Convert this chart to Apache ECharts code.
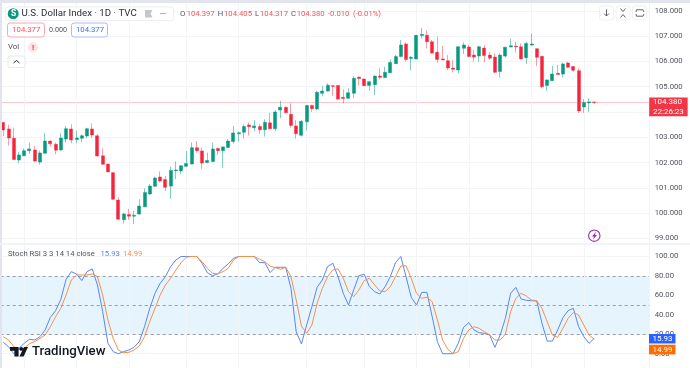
<!DOCTYPE html>
<html>
<head>
<meta charset="utf-8">
<style>html,body{margin:0;padding:0;background:#fff}#c{width:690px;height:368px}</style>
<script src="https://cdn.jsdelivr.net/npm/echarts@6/dist/echarts.min.js"></script>
</head>
<body>
<div id="c"></div>
<script>
// [open, close, low, high]
const candles = [
[103.58,103.29,103.05,103.62],[103.33,102.97,102.67,103.49],[102.96,102.12,102.10,103.38],[102.10,102.30,101.97,102.41],
[102.27,102.47,102.26,102.56],[102.47,102.54,102.34,102.79],[102.50,102.06,102.02,102.66],[102.02,102.38,101.92,102.47],
[102.37,102.85,102.35,103.16],[102.85,102.74,102.63,102.87],[102.72,102.49,102.33,102.79],[102.50,102.97,102.47,103.16],
[102.93,103.34,102.79,103.45],[103.33,102.89,102.76,103.51],[102.91,102.97,102.76,103.26],[102.96,103.06,102.80,103.12],
[103.05,103.34,102.96,103.38],[103.33,103.09,102.96,103.55],[103.06,102.26,102.24,103.12],[102.27,101.93,101.91,102.56],
[101.94,101.63,101.63,101.95],[101.60,100.55,100.52,101.63],[100.52,99.76,99.74,100.63],[99.74,99.97,99.59,100.00],
[99.95,99.88,99.74,100.17],[99.88,99.92,99.57,100.09],[99.97,100.28,99.93,100.55],[100.25,100.82,100.24,100.98],
[100.76,101.07,100.72,101.15],[101.06,101.39,101.05,101.44],[101.43,101.27,101.21,101.65],[101.33,101.02,100.88,101.47],
[101.07,101.69,100.56,101.84],[101.68,101.71,101.35,102.04],[101.67,101.87,101.55,101.90],[101.85,101.96,101.84,102.46],
[101.94,102.59,101.93,102.79],[102.59,102.47,102.39,102.85],[102.46,101.98,101.75,102.60],[102.00,102.08,101.97,102.39],
[102.04,102.54,102.02,102.80],[102.56,102.47,102.30,102.59],[102.47,102.62,101.80,102.63],[102.60,102.85,102.58,102.93],
[102.83,103.17,102.76,103.45],[103.14,103.18,102.83,103.22],[103.20,103.43,102.95,103.51],[103.49,103.42,103.07,103.59],
[103.38,103.45,103.24,103.68],[103.43,103.30,103.13,103.51],[103.30,103.59,103.03,103.71],[103.57,103.34,103.32,103.97],
[103.34,104.00,103.26,104.08],[104.08,104.19,103.75,104.44],[104.19,103.97,103.95,104.21],[103.91,103.47,103.38,104.34],
[103.45,103.14,102.95,103.68],[103.08,103.63,103.03,103.68],[103.61,104.26,103.26,104.28],[104.26,104.13,104.01,104.29],
[104.12,104.78,104.08,104.83],[104.74,104.83,104.61,105.03],[104.83,105.06,104.80,105.13],[105.04,105.01,104.63,105.07],
[105.05,104.51,104.49,105.07],[104.58,104.53,104.34,104.90],[104.54,104.76,104.53,104.94],[104.74,105.33,104.55,105.42],
[105.38,105.32,105.07,105.39],[105.30,105.04,105.03,105.33],[105.05,105.20,104.84,105.23],[105.08,105.42,104.67,105.45],
[105.42,105.37,105.29,105.73],[105.36,105.57,105.34,105.79],[105.55,105.96,105.53,106.08],[105.91,106.19,105.90,106.25],
[106.19,106.65,106.16,106.85],[106.69,106.08,105.99,106.75],[106.12,106.16,105.65,106.22],[106.10,107.03,106.08,107.04],
[107.02,107.07,106.91,107.33],[107.03,106.78,106.52,107.24],[106.78,106.33,106.31,106.85],[106.36,106.08,105.95,106.98],
[106.10,106.06,106.05,106.62],[106.03,105.74,105.66,106.25],[105.74,105.69,105.57,106.05],[105.66,106.58,105.54,106.59],
[106.52,106.65,106.29,106.75],[106.57,106.19,106.16,106.65],[106.25,106.17,105.99,106.45],[106.21,106.58,105.99,106.62],
[106.53,106.23,105.96,106.65],[106.25,106.13,106.06,106.38],[106.17,105.57,105.53,106.32],[105.60,106.25,105.36,106.32],
[106.21,106.56,106.15,106.58],[106.57,106.62,106.56,106.90],[106.61,106.58,106.35,106.78],[106.58,106.10,106.08,106.71],
[106.15,106.71,105.90,106.78],[106.65,106.69,106.61,107.11],[106.50,106.16,105.82,106.52],[106.20,105.00,104.94,106.21],
[105.05,105.27,104.83,105.28],[105.24,105.50,105.23,105.82],[105.53,105.48,105.48,105.86],[105.50,105.90,105.37,105.96],
[105.94,105.77,105.74,105.99],[105.80,105.65,105.59,105.82],[105.63,104.04,103.96,105.73],[104.20,104.38,103.97,104.51],
[104.36,104.40,104.01,104.54],[104.397,104.380,104.317,104.405]
];
const stochK = [
11.7,7.2,0,5.5,10.7,14.8,14.1,17.5,24.4,37.4,44.3,55.9,76.5,84.4,82,75.2,84.4,87.2,70.7,43.3,10.7,2.1,0,2.1,3.8,6.6,12.4,27.8,46.7,62.1,72.4,79.3,89.6,96.4,100,100,100,100,93,83.4,80.3,82,87.8,92.3,
98.1,100,100,100,99.9,93.7,93.7,83.4,88.9,88.9,88.9,67.3,22.7,10,29.5,48.4,68.3,75.8,89.6,93,79.3,62.1,50.1,65.6,80.3,81.7,69,63.8,61.4,69,79.3,93.7,100,79.3,58,50.1,63.1,63.1,38.1,12.4,0,0,0,10.7,
27.1,31.9,24.4,21.6,20.9,19.2,6.5,19.2,36.4,62.1,68.3,56.3,54.9,54.5,54.2,31.2,13,13,24.4,37.1,44.3,46.7,27.8,17.5,10.6,15.93
];
const stochD = [
17.5,14.1,7.2,4.2,5.4,10.3,12.4,15.8,19.2,27.8,38.1,46.7,60.4,75.8,81,81,81,82,79.3,60.4,34.7,15.8,3.8,1.1,1.4,3.8,7.9,17.5,33,46.7,60.4,70.7,77.6,86.1,93.7,99.2,100,99.9,94.7,87.8,82.7,82,84.4,87.8,
96.4,99.9,100,100,99.9,97.1,94.7,90.2,88.5,86.8,88.9,79.3,55.3,28.5,21,29.5,51.8,67.3,79.3,86.1,87.2,77.6,63.8,58.7,65.6,75.2,77.6,70.7,64.5,63.8,69,79.3,90.2,90.6,77.6,62.1,57,58,53.5,34.7,14.1,4.5,0,2.1,
15.8,24.4,27.8,26.1,22.6,19.2,14.1,14.1,20.2,43.2,56.9,62.1,59.3,55.2,54.5,46.6,32.9,19.2,16.8,26.1,36.4,42.5,39.8,29.5,19.2,14.99
];
const priceTicks = [99,100,101,102,103,104,105,106,107,108];
const stochTicks = [0,20,40,60,80,100];
const stochBands = [80,50,20];
const gridDays = [4,14,24,35,45,58,69,79,89,101,111];
const lastPrice = 104.38;
const countdown = '22:26:23';
const ohlcRow = [['O',180,0],['104.397',186.7,1],['H',217.7,0],['104.405',224,1],['L',255,0],['104.317',260,1],['C',291,0],['104.380',296.7,1],['-0.010',328,1],['(-0.01%)',353,1]];
const stochLegend = [['Stoch RSI 3 3 14 14 close',8,'#50535e'],['15.93',100.5,'#5a85f6'],['14.99',123,'#f5914a']];
const days = Array.from({length:124},(_,i)=>String(i));

const RED='#f7253c', GREEN='#089981', GRID='#f3f4f8', FONT='Roboto, "Liberation Sans", sans-serif';
const txt=(text,x,y,size,fill,extra)=>({type:'text',x,y,z:53,style:Object.assign({text,fill,font:size+'px '+FONT,textVerticalAlign:'middle'},extra||{})});
const box=(x,y,w,h,stroke,r,fill)=>({type:'rect',z:49,shape:{x,y,width:w,height:h,r:r===undefined?2:r},style:{fill:fill||'#fff',stroke:stroke||'none',lineWidth:1}});
const pl=(points,stroke,w)=>({type:'polyline',z:51,shape:{points},style:{stroke,lineWidth:w||1,fill:'none'}});

const graphics=[
 {type:'rect',z:60,shape:{x:0,y:0,width:690,height:3},style:{fill:'#e2e5ee'}},
 {type:'rect',z:60,shape:{x:0,y:0,width:2,height:368},style:{fill:'#e2e5ee'}},
 {type:'rect',z:60,shape:{x:0,y:243,width:690,height:2},style:{fill:'#f0f3fa'}},
 box(5.5,7,168,13.5,'#eceef3',3),
 {type:'circle',z:51,shape:{cx:13.2,cy:13.7,r:5.5},style:{fill:GREEN}},
 txt('S',10.9,14,8.5,'#fff',{font:'bold 8.5px '+FONT}),
 txt('U.S. Dollar Index · 1D · TVC',21.5,14,9.7,'#2a2e39'),
 {type:'polygon',z:51,shape:{points:[[145,10],[152.5,10],[150.5,13.5],[152.5,17.5],[145,17.5]]},style:{fill:'#c4c6cd'}},
 txt('•••',160,14,6,'#6a6d78'),
 ...ohlcRow.map(r=>txt(r[0],r[1],14,7.7,r[2]?'#f7525f':'#50535e')),
 ...stochLegend.map(r=>txt(r[0],r[1],254.5,7.7,r[2])),
 box(7.5,23,37,14,'#f7a9b1',2.5),
 txt('104.377',12.3,30.3,7.7,'#f7525f'),
 txt('0.000',49,30.3,7.2,'#50535e'),
 box(71.5,23,36,14,'#a8bdf8',2.5),
 txt('104.377',76,30.3,7.7,'#3d6ef5'),
 txt('Vol',8,47.5,7.8,'#50535e'),
 {type:'circle',z:51,shape:{cx:33,cy:47.3,r:5},style:{fill:'#fde3e5'}},
 txt('!',32,47.5,8,'#f23645',{font:'bold 8px '+FONT}),
 box(8,56,17,11.5,'#e6e8ee',2),
 pl([[13.5,63],[16.5,60.5],[19.5,63]],'#2a2e39',1),
 box(599.5,6,14,14,'#eef0f4',2.5),
 box(616,6,14,14,'#eef0f4',2.5),
 box(632.5,6,14,14,'#eef0f4',2.5),
 pl([[606.5,9.5],[606.5,16]],'#50535e',0.9), pl([[604,13.5],[606.5,16],[609,13.5]],'#50535e',0.9),
 pl([[620.5,8.5],[623,11.5],[625.5,8.5]],'#50535e',0.9), pl([[620.5,17.5],[623,14.5],[625.5,17.5]],'#50535e',0.9),
 pl([[636,12],[636.5,9.8],[643,9.8],[644,12]],'#50535e',0.9), pl([[636,14],[636.5,16.2],[643,16.2],[644,14]],'#50535e',0.9),
 {type:'circle',z:51,shape:{cx:594.3,cy:235.7,r:5.7},style:{fill:'#fff',stroke:'#9c27b0',lineWidth:1.1}},
 {type:'polygon',z:52,shape:{points:[[596.2,231.6],[592,236.4],[594.2,236.4],[592.8,239.8],[597,235],[594.8,235]]},style:{fill:'#9c27b0'}},
 box(649,334,26.5,9.5,null,0,'#2962ff'),
 txt('15.93',652.5,339,8,'#fff'),
 box(649,344.7,26.5,9.7,null,0,'#ff6d00'),
 txt('14.99',652.5,349.8,8,'#fff'),
 {type:'polygon',z:55,shape:{points:[[10,347],[18.6,347],[18.6,356.6],[14.4,356.6],[14.4,350.8],[10,350.8]]},style:{fill:'#131722'}},
 {type:'circle',z:55,shape:{cx:21.3,cy:348.9,r:1.9},style:{fill:'#131722'}},
 {type:'polygon',z:55,shape:{points:[[24,347],[28,347],[23.6,356.6],[19.4,356.6]]},style:{fill:'#131722'}},
 txt('TradingView',32,352,13.2,'#131722',{font:'500 13.2px '+FONT})
];

const axisLabelBase={show:true,align:'left',margin:5.5,fontSize:7.7,color:'#50535e',fontFamily:FONT};
const vLines=gridDays.map(d=>({xAxis:d}));
const option={
 animation:false,
 backgroundColor:'#fff',
 textStyle:{fontFamily:FONT},
 grid:[
  {left:0.7,top:3,width:648.5,height:240},
  {left:0.7,top:245,width:648.5,height:123}
 ],
 xAxis:[
  {type:'category',gridIndex:0,data:days,show:false},
  {type:'category',gridIndex:1,data:days,show:false}
 ],
 yAxis:[
  {type:'value',gridIndex:0,position:'right',min:98.82,max:108.31,scale:true,
   axisLine:{show:true,lineStyle:{color:'#f0f3fa'}},axisTick:{show:false,customValues:priceTicks},
   splitLine:{show:true,lineStyle:{color:GRID,width:1}},
   axisLabel:Object.assign({},axisLabelBase,{customValues:priceTicks,formatter:v=>v.toFixed(3)})},
  {type:'value',gridIndex:1,position:'right',min:-14.7,max:111.8,
   axisLine:{show:true,lineStyle:{color:'#f0f3fa'}},axisTick:{show:false,customValues:stochTicks},
   splitLine:{show:true,lineStyle:{color:GRID,width:1}},
   axisLabel:Object.assign({},axisLabelBase,{customValues:stochTicks,formatter:v=>v.toFixed(2)})}
 ],
 series:[
  {type:'candlestick',xAxisIndex:0,yAxisIndex:0,data:candles,barWidth:3.5,z:5,clip:true,
   itemStyle:{color:GREEN,color0:RED,borderColor:'rgba(8,153,129,0.5)',borderColor0:'rgba(247,37,60,0.45)',borderWidth:1},
   markLine:{silent:true,symbol:'none',animation:false,z:3,
    data:[{yAxis:lastPrice,lineStyle:{color:'rgba(242,54,69,0.28)',type:'solid',width:1},
      label:{show:true,position:'end',distance:0,offset:[0,4.5],formatter:lastPrice.toFixed(3)+'\n'+countdown,color:'#fff',backgroundColor:'#f23645',
       fontSize:8,lineHeight:9.3,padding:[0,3.8,0,3.8],fontFamily:FONT,align:'left'}},
     ...vLines.map(v=>Object.assign({},v,{lineStyle:{color:GRID,type:'solid',width:1},label:{show:false}}))]}},
  {type:'line',xAxisIndex:1,yAxisIndex:1,data:stochK,symbol:'none',z:6,lineStyle:{color:'#5a85f6',width:1},
   markArea:{silent:true,z:1,itemStyle:{color:'#e6f4fe'},data:[[{yAxis:20},{yAxis:80}]]},
   markLine:{silent:true,symbol:'none',animation:false,z:2,label:{show:false},
    data:[...stochBands.map(v=>({yAxis:v,lineStyle:{color:'#9a9da6',type:[3,3],width:1}})),
     ...vLines.map(v=>Object.assign({},v,{lineStyle:{color:GRID,type:'solid',width:1}}))]}},
  {type:'line',xAxisIndex:1,yAxisIndex:1,data:stochD,symbol:'none',z:7,lineStyle:{color:'#f5914a',width:1}}
 ],
 graphic:{elements:graphics}
};
echarts.init(document.getElementById('c'),null,{renderer:'canvas'}).setOption(option);
</script>
</body>
</html>
